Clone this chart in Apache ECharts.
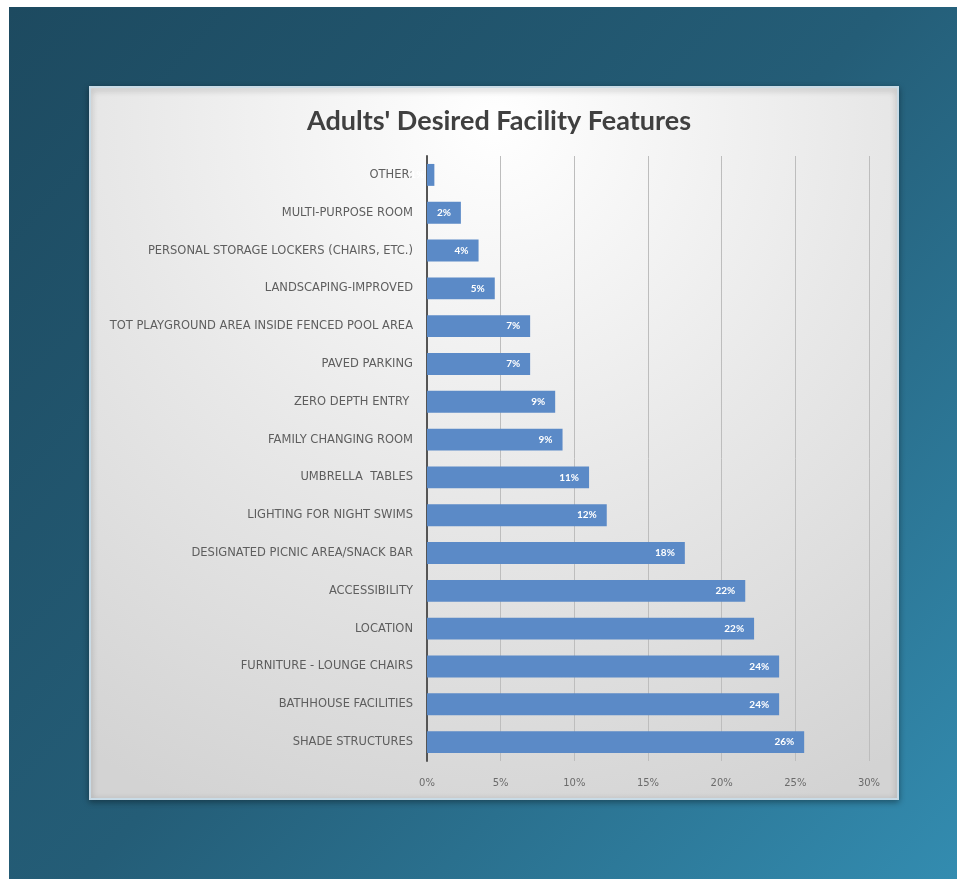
<!DOCTYPE html>
<html>
<head>
<meta charset="utf-8">
<title>Adults' Desired Facility Features</title>
<script src="https://cdn.jsdelivr.net/npm/echarts@6/dist/echarts.min.js"></script>
<style>
  html, body { margin: 0; padding: 0; background: #ffffff; }
  #chart { width: 967px; height: 884px; }
</style>
</head>
<body>
<div id="chart"></div>
<script>
// Survey responses, listed top to bottom as shown on the chart
const categories = [
  'OTHER:',
  'MULTI-PURPOSE ROOM',
  'PERSONAL STORAGE LOCKERS (CHAIRS, ETC.)',
  'LANDSCAPING-IMPROVED',
  'TOT PLAYGROUND AREA INSIDE FENCED POOL AREA',
  'PAVED PARKING',
  'ZERO DEPTH ENTRY ',
  'FAMILY CHANGING ROOM',
  'UMBRELLA  TABLES',
  'LIGHTING FOR NIGHT SWIMS',
  'DESIGNATED PICNIC AREA/SNACK BAR',
  'ACCESSIBILITY',
  'LOCATION',
  'FURNITURE - LOUNGE CHAIRS',
  'BATHHOUSE FACILITIES',
  'SHADE STRUCTURES'
];

// Share of adults selecting each feature (percent)
const shares = [0.5, 2.3, 3.5, 4.6, 7.0, 7.0, 8.7, 9.2, 11.0, 12.2, 17.5, 21.6, 22.2, 23.9, 23.9, 25.6];

// Value axis tick labels
const tickLabels = ['0%', '5%', '10%', '15%', '20%', '25%', '30%'];

const chart = echarts.init(document.getElementById('chart'), null, { renderer: 'canvas' });

const seriesData = shares.map(v => ({
  value: v,
  label: { show: Math.round(v) >= 1 }
}));

chart.setOption({
  backgroundColor: '#ffffff',
  animation: false,
  graphic: [
    {
      type: 'rect',
      z: -10,
      silent: true,
      shape: { x: 9, y: 7, width: 948, height: 872 },
      style: {
        fill: new echarts.graphic.LinearGradient(0, 0, 1, 1, [
          { offset: 0, color: '#1d4a60' },
          { offset: 0.5, color: '#245d77' },
          { offset: 1, color: '#338cb0' }
        ])
      }
    },
    {
      type: 'rect',
      z: -9,
      silent: true,
      shape: { x: 90, y: 87, width: 808, height: 712 },
      style: {
        fill: new echarts.graphic.RadialGradient(0.5, 0.05, 1.05, [
          { offset: 0, color: '#ffffff' },
          { offset: 0.5, color: '#e8e8e8' },
          { offset: 1, color: '#d3d3d3' }
        ]),
        stroke: '#c9dbe6',
        lineWidth: 2,
        shadowBlur: 6,
        shadowColor: 'rgba(0,0,0,0.35)',
        shadowOffsetY: 2
      }
    }
  ],
  title: {
    text: "Adults' Desired Facility Features",
    left: 494,
    top: 103,
    textAlign: 'center',
    textStyle: {
      fontFamily: 'Lato, "Open Sans", sans-serif',
      fontSize: 27,
      fontWeight: 'bold',
      color: '#404040'
    }
  },
  grid: {
    left: 427,
    right: 98,
    top: 156,
    bottom: 123,
    containLabel: false
  },
  xAxis: {
    type: 'value',
    min: 0,
    max: 30,
    interval: 5,
    axisLine: { show: false },
    axisTick: { show: false },
    splitLine: { show: true, lineStyle: { color: '#bdbdbd', width: 1 } },
    axisLabel: {
      margin: 17,
      color: '#6b6b6b',
      fontSize: 10,
      fontFamily: '"DejaVu Sans", sans-serif',
      formatter: v => tickLabels[Math.round(v / 5)]
    }
  },
  yAxis: {
    type: 'category',
    inverse: true,
    data: categories,
    axisLine: { show: true, lineStyle: { color: '#555555', width: 2 } },
    axisTick: { show: false },
    axisLabel: {
      margin: 14,
      color: '#5e5e5e',
      fontSize: 11.5,
      fontFamily: '"DejaVu Sans", sans-serif'
    }
  },
  series: [
    {
      type: 'bar',
      data: seriesData,
      barCategoryGap: '42%',
      itemStyle: { color: '#5b8ac7' },
      label: {
        show: true,
        position: 'insideRight',
        distance: 10,
        color: '#ffffff',
        fontSize: 10,
        fontWeight: 'bold',
        fontFamily: 'Lato, "Open Sans", sans-serif',
        formatter: p => Math.round(p.value) + '%'
      }
    }
  ]
});
</script>
</body>
</html>
